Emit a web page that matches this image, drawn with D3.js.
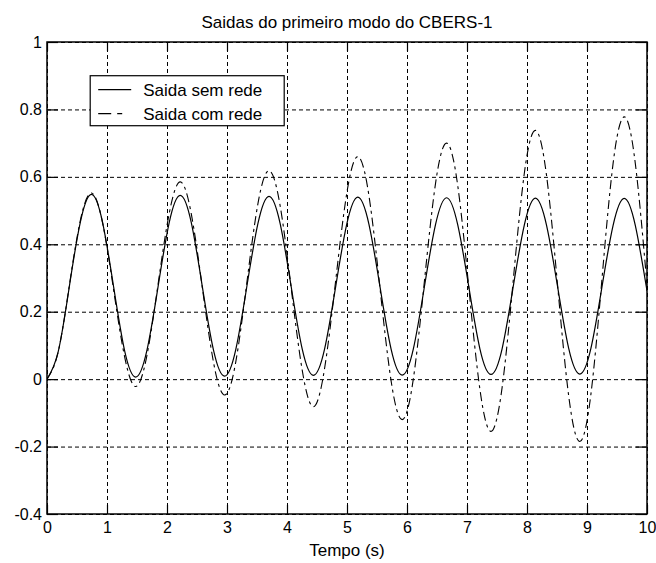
<!DOCTYPE html>
<html>
<head>
<meta charset="utf-8">
<script src="https://cdn.jsdelivr.net/npm/d3@7"></script>
<style>
  body { margin: 0; background: #fff; }
  text { font-family: "Liberation Sans", Arial, sans-serif; fill: #000; }
</style>
</head>
<body>
<div class="chart1"></div>
<script>
var tempo = [0, 0.185, 0.37, 0.555, 0.74, 0.925, 1.11, 1.295, 1.48, 1.665, 1.85, 2.035, 2.22, 2.405,
  2.59, 2.775, 2.96, 3.145, 3.33, 3.515, 3.7, 3.885, 4.07, 4.255, 4.44, 4.625, 4.81, 4.995, 5.18,
  5.365, 5.55, 5.735, 5.92, 6.105, 6.29, 6.475, 6.66, 6.845, 7.03, 7.215, 7.4, 7.585, 7.77, 7.955,
  8.14, 8.325, 8.51, 8.695, 8.88, 9.065, 9.25, 9.435, 9.62, 9.805, 10];

var saidaSemRede = [0, 0.08, 0.272, 0.465, 0.548, 0.466, 0.274, 0.083,
  0.006, 0.085, 0.273, 0.463, 0.545, 0.464, 0.273, 0.086,
  0.009, 0.087, 0.274, 0.461, 0.542, 0.462, 0.274, 0.088,
  0.011, 0.088, 0.273, 0.459, 0.54, 0.46, 0.274, 0.089,
  0.012, 0.089, 0.274, 0.458, 0.538, 0.458, 0.274, 0.09,
  0.014, 0.09, 0.274, 0.457, 0.537, 0.457, 0.274, 0.091,
  0.015, 0.091, 0.274, 0.456, 0.536, 0.456, 0.262];

var saidaComRede = [0, 0.08, 0.275, 0.47, 0.552, 0.465, 0.265, 0.065,
  -0.022, 0.07, 0.28, 0.49, 0.585, 0.49, 0.27, 0.05,
  -0.047, 0.05, 0.285, 0.52, 0.618, 0.515, 0.27, 0.025,
  -0.082, 0.03, 0.29, 0.55, 0.66, 0.545, 0.27, -0.005,
  -0.12, 0.0, 0.29, 0.58, 0.70, 0.575, 0.272, -0.03,
  -0.155, -0.025, 0.292, 0.61, 0.738, 0.605, 0.278, -0.05,
  -0.185, -0.045, 0.298, 0.64, 0.778, 0.64, 0.28];

var xTicks = [0, 1, 2, 3, 4, 5, 6, 7, 8, 9, 10];
var yTicks = [-0.4, -0.2, 0, 0.2, 0.4, 0.6, 0.8, 1];
var legendLabels = ["Saida sem rede", "Saida com rede"];

var margin = { top: 42, right: 9, bottom: 49, left: 47 };
var width = 656 - margin.left - margin.right;
var height = 563 - margin.top - margin.bottom;

var xScale = d3.scaleLinear().domain([0, 10]).range([0, width]);
var yScale = d3.scaleLinear().domain([-0.4, 1]).range([height, 0]);

var svg = d3.select('.chart1')
  .append('svg')
  .attr("width", 656)
  .attr("height", 563);

var chart = svg.append("g")
  .attr("transform", "translate(" + margin.left + "," + margin.top + ")");

/* grid */
chart.append("g")
  .attr("class", "grid")
  .attr("transform", "translate(0," + height + ")")
  .call(d3.axisBottom(xScale).tickValues(xTicks).tickSize(-height).tickFormat(""))
  .call(function (g) { g.select(".domain").remove(); });

chart.append("g")
  .attr("class", "grid")
  .call(d3.axisLeft(yScale).tickValues(yTicks).tickSize(-width).tickFormat(""))
  .call(function (g) { g.select(".domain").remove(); });

chart.selectAll(".grid line")
  .attr("stroke", "#000")
  .attr("stroke-width", 1)
  .attr("stroke-dasharray", "4,3");

/* curves */
chart.append("clipPath")
  .attr("id", "clip")
  .append("rect")
  .attr("width", width)
  .attr("height", height);

var line = d3.line()
  .curve(d3.curveNatural)
  .x(function (d, i) { return xScale(tempo[i]); })
  .y(function (d) { return yScale(d); });

chart.append("path")
  .attr("clip-path", "url(#clip)")
  .attr("d", line(saidaComRede))
  .attr("fill", "none")
  .attr("stroke", "#000")
  .attr("stroke-width", 1.1)
  .attr("stroke-dasharray", "9,4,3,4");

chart.append("path")
  .attr("clip-path", "url(#clip)")
  .attr("d", line(saidaSemRede))
  .attr("fill", "none")
  .attr("stroke", "#000")
  .attr("stroke-width", 1.2);

/* axes, ticks pointing inward */
var xAxis = chart.append("g")
  .attr("transform", "translate(0," + height + ")")
  .call(d3.axisBottom(xScale).tickValues(xTicks).tickSize(-9).tickPadding(8).tickFormat(d3.format("d")));

var yAxis = chart.append("g")
  .call(d3.axisLeft(yScale).tickValues(yTicks).tickSize(-11).tickPadding(5).tickFormat(function (d) { return String(+d.toFixed(1)); }));

chart.append("g")
  .call(d3.axisTop(xScale).tickValues(xTicks).tickSize(-9).tickFormat(""));

chart.append("g")
  .attr("transform", "translate(" + width + ",0)")
  .call(d3.axisRight(yScale).tickValues(yTicks).tickSize(-11).tickFormat(""));

chart.selectAll(".domain").remove();
chart.selectAll(".tick line").filter(function () { return !this.parentNode.parentNode.classList.contains("grid"); })
  .attr("stroke", "#000")
  .attr("stroke-width", 1.2);

chart.selectAll(".tick text")
  .style("font-size", "16px")
  .style("font-family", "'Liberation Sans', Arial, sans-serif");

chart.append("rect")
  .attr("width", width)
  .attr("height", height)
  .attr("fill", "none")
  .attr("stroke", "#000")
  .attr("stroke-width", 1.5);

/* legend */
var legend = chart.append("g")
  .attr("transform", "translate(" + (xScale(0.72)) + "," + (yScale(0.9)) + ")");

legend.append("rect")
  .attr("width", 194)
  .attr("height", 50)
  .attr("fill", "#fff")
  .attr("stroke", "#000")
  .attr("stroke-width", 1.2);

var item = legend.selectAll(".item")
  .data(legendLabels)
  .enter().append("g")
  .attr("class", "item")
  .attr("transform", function (d, i) { return "translate(0," + (14 + i * 24) + ")"; });

item.append("line")
  .attr("x1", 8)
  .attr("x2", 41)
  .attr("stroke", "#000")
  .attr("stroke-width", 1.2)
  .attr("stroke-dasharray", function (d, i) { return i === 0 ? null : "13,6,5,20"; });

item.append("text")
  .attr("x", 53)
  .attr("dy", "0.35em")
  .style("font-size", "17px")
  .text(function (d) { return d; });

/* title and label */
svg.append("text")
  .attr("x", margin.left + width / 2)
  .attr("y", 28)
  .attr("text-anchor", "middle")
  .style("font-size", "17px")
  .text("Saidas do primeiro modo do CBERS-1");

svg.append("text")
  .attr("x", margin.left + width / 2)
  .attr("y", 556)
  .attr("text-anchor", "middle")
  .style("font-size", "17px")
  .text("Tempo (s)");
</script>
</body>
</html>
